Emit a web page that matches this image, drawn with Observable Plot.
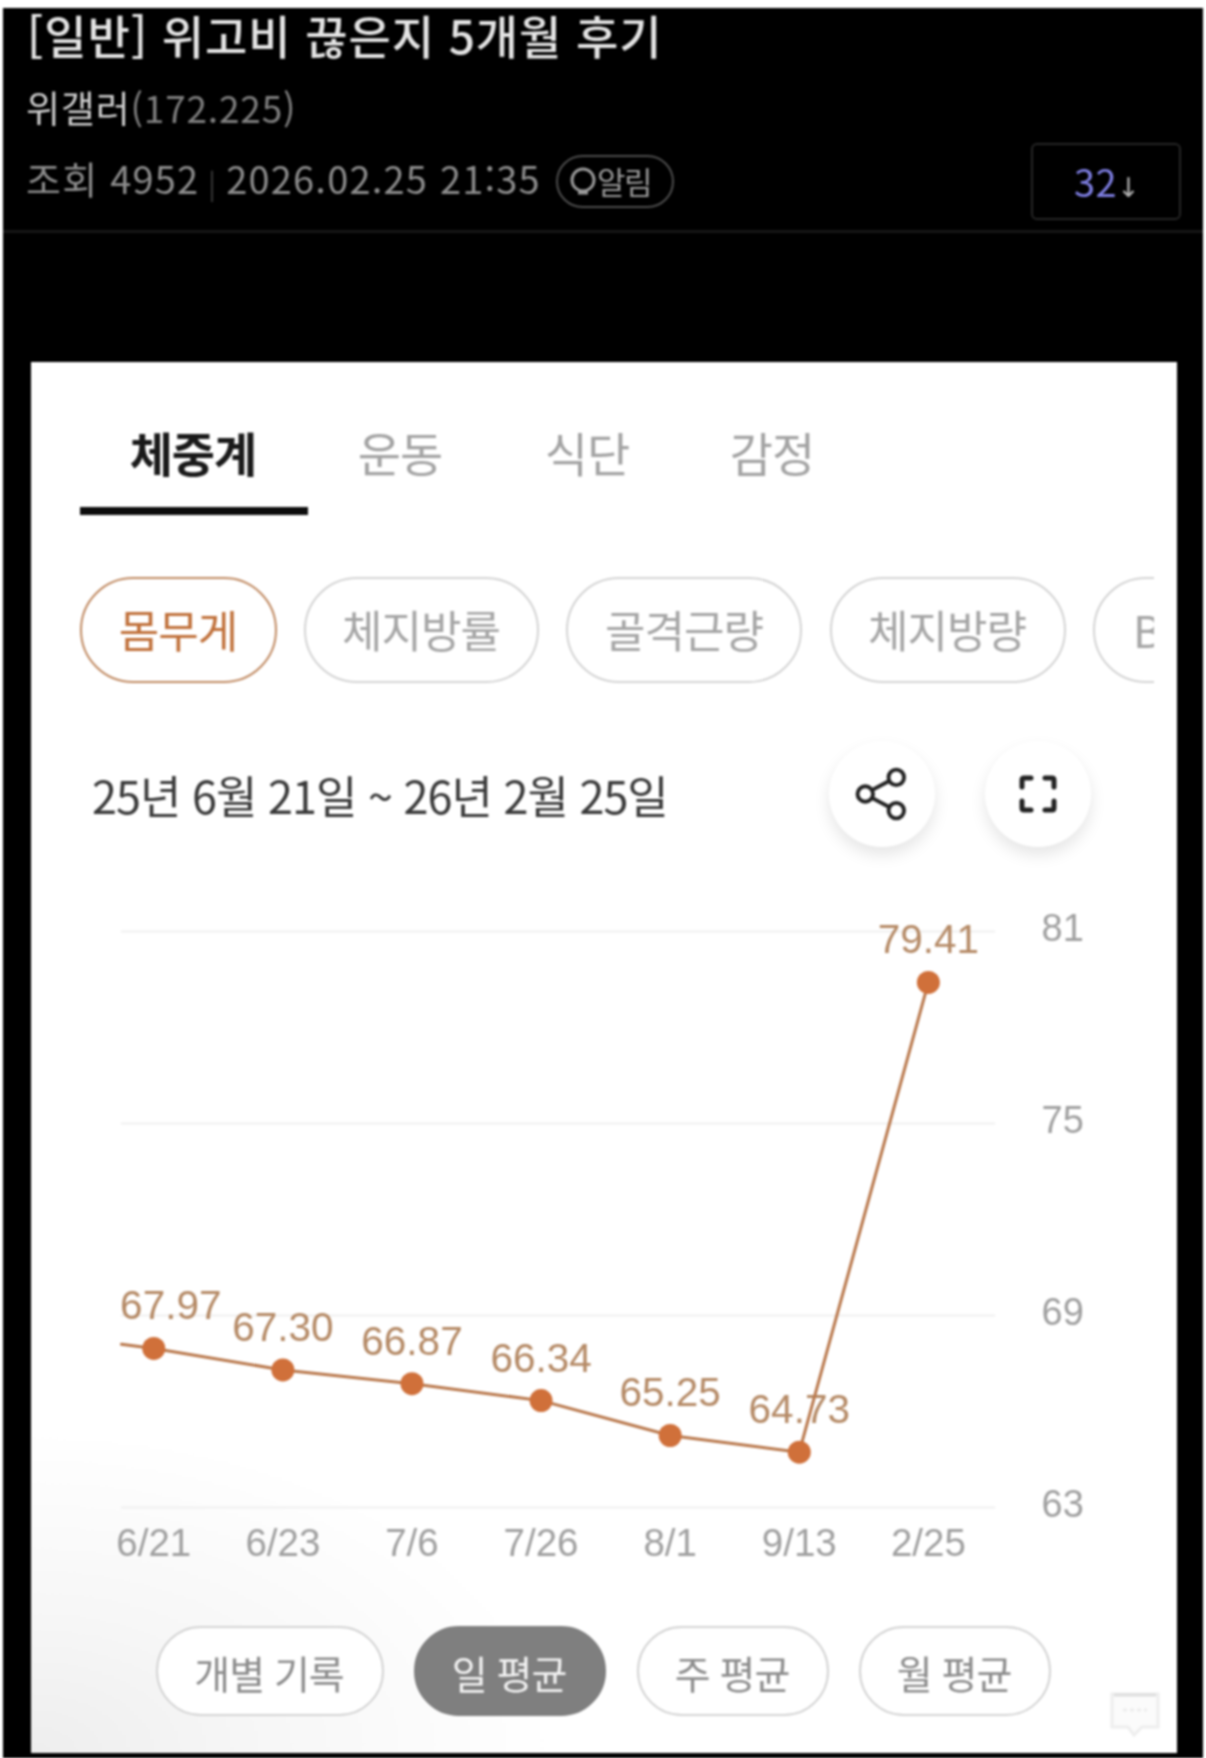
<!DOCTYPE html>
<html lang="ko">
<head>
<meta charset="utf-8">
<script src="https://cdn.jsdelivr.net/npm/d3@7"></script>
<script src="https://cdn.jsdelivr.net/npm/@observablehq/plot@0.6"></script>
<style>
html,body{margin:0;padding:0;background:#fff;}
#page{position:relative;width:1206px;height:1758px;overflow:hidden;font-family:"Noto Sans CJK KR","Noto Sans",sans-serif;filter:blur(.8px);}
#black{position:absolute;left:3px;top:8px;width:1200px;height:1750px;background:#000;}
#card{position:absolute;left:31px;top:362px;width:1146px;height:1391px;background:
 radial-gradient(ellipse 520px 320px at 0% 100%,#eeeeee 0%,#f7f7f7 45%,rgba(255,255,255,0) 100%),#fff;}
.t{position:absolute;white-space:nowrap;line-height:1;transform:translateY(-50%);}
.c{position:absolute;white-space:nowrap;line-height:1;transform:translate(-50%,-50%);}
.pill{position:absolute;box-sizing:border-box;border:2.5px solid #d4d4d4;border-radius:48px;background:#fff;}
.circle{position:absolute;width:106px;height:106px;border-radius:50%;background:#fff;box-shadow:0 8px 16px rgba(0,0,0,.10);transform:translate(-50%,-50%);}
#chart{position:absolute;left:0;top:880px;}
#chart svg{overflow:visible;}
</style>
</head>
<body>
<div id="page">
<div id="black"></div>

<div class="t" style="left:27px;top:34px;font-size:46px;font-weight:500;color:#e4e4e4;letter-spacing:.9px;">[일반] 위고비 끊은지 5개월 후기</div>
<div class="t" style="left:26px;top:107px;font-size:37px;color:#cfcfcf;letter-spacing:.8px;">위갤러<span style="color:#7f7f7f;">(172.225)</span></div>
<div class="t" style="left:26px;top:178px;font-size:38px;color:#8c8c8c;letter-spacing:1.2px;">조회 4952<span style="color:#3c3c3c;font-size:28px;"> | </span>2026.02.25 21:35</div>
<div style="position:absolute;left:556px;top:155px;width:118px;height:53px;box-sizing:border-box;border:2px solid #4d4d4d;border-radius:27px;"></div>
<svg style="position:absolute;left:568px;top:166px;" width="30" height="32" viewBox="0 0 30 32"><circle cx="15" cy="14" r="11" fill="none" stroke="#9a9a9a" stroke-width="3"/><path d="M10 27h10" stroke="#9a9a9a" stroke-width="3"/></svg>
<div class="t" style="left:597px;top:180px;font-size:31px;color:#9a9a9a;letter-spacing:-1.5px;">알림</div>
<div style="position:absolute;left:1031px;top:143px;width:150px;height:77px;box-sizing:border-box;border:2px solid #262626;border-radius:6px;"></div>
<div class="t" style="left:1074px;top:181px;font-size:38px;color:#7d7de0;letter-spacing:.5px;">32<span style="color:#b0b0b0;font-size:27px;font-family:'DejaVu Sans';">↓</span></div>
<div style="position:absolute;left:3px;top:230px;width:1200px;height:3px;background:#161616;"></div>

<div id="card"></div>

<div class="c" style="left:193px;top:451px;font-size:47px;font-weight:700;color:#1a1a1a;letter-spacing:-1px;">체중계</div>
<div class="c" style="left:400px;top:451px;font-size:47px;color:#a3a3a3;letter-spacing:-1px;">운동</div>
<div class="c" style="left:587px;top:451px;font-size:47px;color:#a3a3a3;letter-spacing:-1px;">식단</div>
<div class="c" style="left:772px;top:451px;font-size:47px;color:#a3a3a3;letter-spacing:-1px;">감정</div>
<div style="position:absolute;left:80px;top:507px;width:228px;height:8px;background:#0c0c0c;"></div>

<div class="pill" style="left:80px;top:577px;width:197px;height:106px;border-radius:53px;border-color:#c08a62;"></div>
<div class="c" style="left:178px;top:629px;font-size:44px;color:#c0703a;letter-spacing:-1px;">몸무게</div>
<div class="pill" style="left:304px;top:577px;width:235px;height:106px;border-radius:53px;"></div>
<div class="c" style="left:421px;top:629px;font-size:44px;color:#a5a5a5;letter-spacing:-1px;">체지방률</div>
<div class="pill" style="left:566px;top:577px;width:236px;height:106px;border-radius:53px;"></div>
<div class="c" style="left:684px;top:629px;font-size:44px;color:#a5a5a5;letter-spacing:-1px;">골격근량</div>
<div class="pill" style="left:830px;top:577px;width:236px;height:106px;border-radius:53px;"></div>
<div class="c" style="left:947px;top:629px;font-size:44px;color:#a5a5a5;letter-spacing:-1px;">체지방량</div>
<div style="position:absolute;left:1080px;top:570px;width:74px;height:120px;overflow:hidden;">
  <div class="pill" style="left:13px;top:7px;width:236px;height:106px;border-radius:53px;"></div>
  <div class="t" style="left:53px;top:59px;font-size:44px;color:#a5a5a5;">BMI</div>
</div>

<div class="t" style="left:92px;top:794px;font-size:45px;color:#3a3a3a;letter-spacing:-1px;">25년 6월 21일 ~ 26년 2월 25일</div>
<div class="circle" style="left:882px;top:794px;"></div>
<svg style="position:absolute;left:852px;top:763px;" width="62" height="62" viewBox="0 0 56 56" fill="none" stroke="#222" stroke-width="3.5"><circle cx="12" cy="28" r="7"/><circle cx="40" cy="13" r="7"/><circle cx="40" cy="43" r="7"/><path d="M18 24.500 34 16M18 31.500 34 40"/></svg>
<div class="circle" style="left:1038px;top:794px;"></div>
<svg style="position:absolute;left:1019px;top:775px;" width="38" height="38" viewBox="0 0 38 38" fill="none" stroke="#222" stroke-width="5" stroke-linejoin="round" stroke-linecap="round"><path d="M3 12V5q0-2 2-2h7M26 3h7q2 0 2 2v7M3 26v7q0 2 2 2h7M26 35h7q2 0 2-2v-7"/></svg>

<div id="chart"></div>

<div class="pill" style="left:156px;top:1626px;width:228px;height:90px;border-radius:45px;"></div>
<div class="c" style="left:269px;top:1672px;font-size:39px;color:#8c8c8c;letter-spacing:-1px;">개별 기록</div>
<div class="pill" style="left:414px;top:1626px;width:192px;height:90px;border-radius:45px;background:#7f7f7f;border-color:#7f7f7f;"></div>
<div class="c" style="left:509px;top:1672px;font-size:39px;color:#f2f2f2;letter-spacing:-1px;">일 평균</div>
<div class="pill" style="left:637px;top:1626px;width:192px;height:90px;border-radius:45px;"></div>
<div class="c" style="left:732px;top:1672px;font-size:39px;color:#8c8c8c;letter-spacing:-1px;">주 평균</div>
<div class="pill" style="left:859px;top:1626px;width:192px;height:90px;border-radius:45px;"></div>
<div class="c" style="left:954px;top:1672px;font-size:39px;color:#8c8c8c;letter-spacing:-1px;">월 평균</div>
<svg style="position:absolute;left:1109px;top:1691px;" width="52" height="46" viewBox="0 0 52 46"><path d="M3 3h46v33H33l-8 8-6-8H3z" fill="#fbfbfb" stroke="#eeeeee" stroke-width="3"/><path d="M5 4h42" stroke="#dedede" stroke-width="3"/><path d="M14 19h24" stroke="#ededed" stroke-width="3" stroke-dasharray="4 3"/></svg>
</div>

<script>
const dateLabels = ["6/21","6/23","7/6","7/26","8/1","9/13","2/25"];
const weights = [67.97,67.30,66.87,66.34,65.25,64.73,79.41];
const leadInPosition = -0.25;
const leadInWeight = 68.1;
const yTicks = [63,69,75,81];

const rows = dateLabels.map((d,i)=>({i,label:d,w:weights[i]}));
const lineRows = [{i:leadInPosition,w:leadInWeight},...rows];
const valueFont = {fontFamily:"'Liberation Sans',Arial,sans-serif",fontSize:40.5};

const chart = Plot.plot({
  width:1206,height:700,
  marginTop:51,marginBottom:73,marginLeft:121,marginRight:211,
  style:{background:"transparent",overflow:"visible"},
  x:{domain:[leadInPosition,6.52],label:null},
  y:{domain:[63,81],label:null},
  marks:[
    Plot.ruleY(yTicks,{stroke:"#f0f0f0",strokeWidth:2}),
    Plot.axisX({ticks:d3.range(7),tickFormat:i=>dateLabels[i],tickSize:0,tickPadding:21,label:null,
      fill:"#a0a0a0",fontFamily:valueFont.fontFamily,fontSize:38.5}),
    Plot.axisY({anchor:"right",ticks:yTicks,tickFormat:d=>d,tickSize:0,tickPadding:46,label:null,textAnchor:"start",dy:-3,
      fill:"#a0a0a0",fontFamily:valueFont.fontFamily,fontSize:38}),
    Plot.text(rows.filter(d=>d.i>0),{x:"i",y:"w",text:d=>d.w.toFixed(2),dy:-42,fill:"#b58a66",...valueFont}),
    Plot.text(rows.filter(d=>d.i===0),{x:"i",y:"w",text:d=>d.w.toFixed(2),dy:-42,dx:17,fill:"#b58a66",...valueFont}),
    Plot.line(lineRows,{x:"i",y:"w",stroke:"#b9784c",strokeWidth:3,curve:"linear"}),
    Plot.dot(rows,{x:"i",y:"w",r:11.5,fill:"#d0703a",stroke:"none"})
  ]
});
document.getElementById("chart").appendChild(chart);
</script>
</body>
</html>
